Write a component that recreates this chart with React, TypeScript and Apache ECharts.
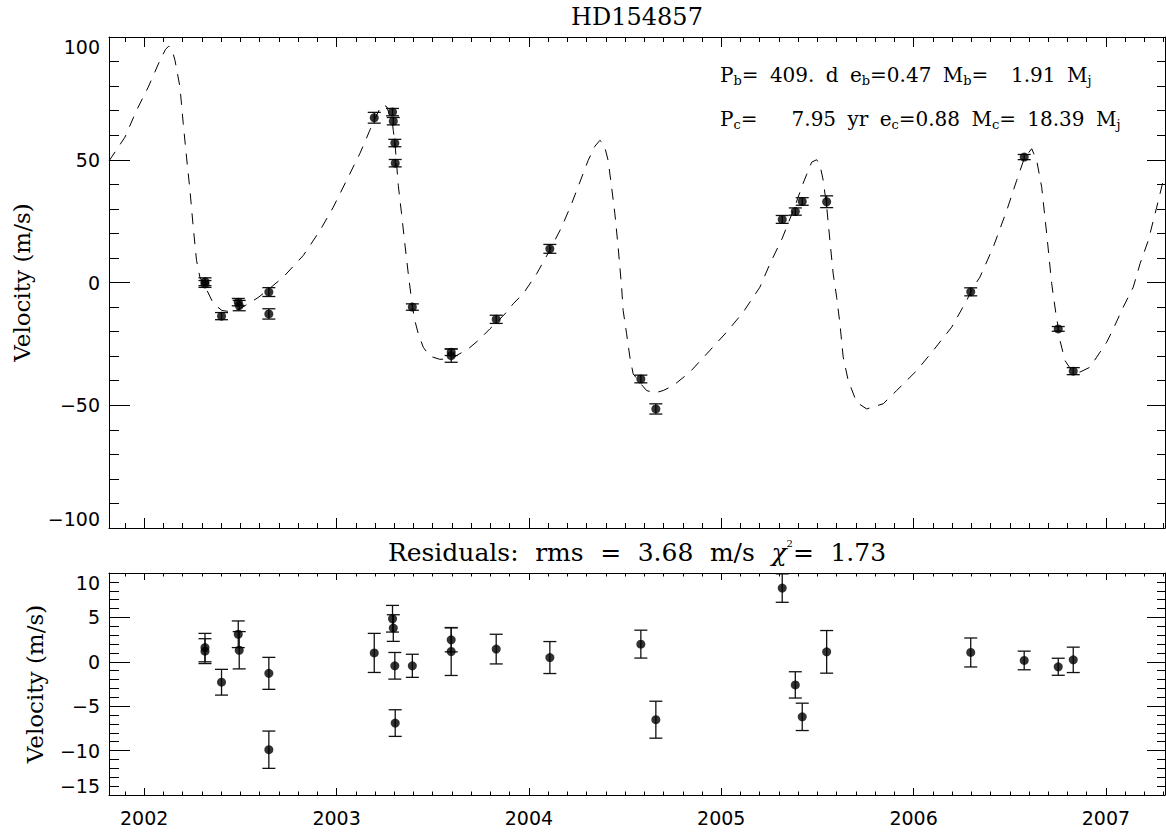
import React, { useEffect, useRef } from 'react';
import * as echarts from 'echarts';

// ---- Data ----
const modelYear = [
  2001.817, 2001.900, 2001.960, 2002.021, 2002.082, 2002.111, 2002.128, 2002.144, 2002.160, 2002.186,
  2002.203, 2002.220, 2002.238, 2002.255, 2002.272, 2002.290, 2002.316, 2002.359, 2002.404, 2002.440,
  2002.494, 2002.529, 2002.591, 2002.648, 2002.723, 2002.827, 2002.914, 2002.983, 2003.052, 2003.121,
  2003.173, 2003.196, 2003.225, 2003.243, 2003.262, 2003.278, 2003.291, 2003.295, 2003.303, 2003.305,
  2003.321, 2003.338, 2003.355, 2003.373, 2003.394, 2003.407, 2003.425, 2003.451, 2003.485, 2003.537,
  2003.596, 2003.685, 2003.737, 2003.797, 2003.830, 2003.875, 2003.918, 2003.970, 2004.040, 2004.109,
  2004.170, 2004.222, 2004.265, 2004.308, 2004.343, 2004.369, 2004.390, 2004.412, 2004.430, 2004.447,
  2004.464, 2004.482, 2004.490, 2004.508, 2004.525, 2004.542, 2004.582, 2004.612, 2004.655, 2004.698,
  2004.750, 2004.837, 2004.924, 2005.028, 2005.114, 2005.201, 2005.253, 2005.317, 2005.374, 2005.385,
  2005.426, 2005.470, 2005.496, 2005.513, 2005.530, 2005.548, 2005.565, 2005.582, 2005.600, 2005.617,
  2005.634, 2005.660, 2005.704, 2005.756, 2005.842, 2005.912, 2006.016, 2006.102, 2006.198, 2006.276,
  2006.310, 2006.345, 2006.414, 2006.484, 2006.536, 2006.575, 2006.614, 2006.640, 2006.666, 2006.692,
  2006.718, 2006.740, 2006.752, 2006.761, 2006.787, 2006.822, 2006.865, 2006.917, 2006.952, 2007.004,
  2007.038, 2007.090, 2007.142, 2007.177, 2007.220, 2007.264, 2007.298, 2007.307,
];
const modelVel = [
  49.5, 59.2, 70.1, 79.6, 90.5, 95.0, 96.3, 95.0, 90.5, 79.6,
  64.7, 51.1, 37.5, 22.5, 9.0, 2.0, -1.5, -8.5, -11.4, -11.8,
  -10.7, -9.2, -6.2, -2.7, 2.2, 11.0, 21.2, 30.7, 41.6, 52.5,
  62.0, 66.1, 70.8, 72.5, 71.5, 67.5, 64.6, 61.9, 57.3, 55.5,
  39.5, 28.0, 15.8, 3.5, -9.5, -15.5, -20.9, -26.4, -30.0, -31.3,
  -31.0, -27.0, -23.6, -18.9, -16.4, -12.8, -8.7, -4.6, 3.5, 13.2,
  22.5, 32.1, 40.9, 49.7, 55.5, 57.9, 56.5, 49.7, 38.8, 28.0,
  14.4, -1.9, -11.4, -20.9, -30.4, -37.2, -41.3, -44.0, -45.0, -44.0,
  -42.0, -36.5, -29.1, -20.2, -12.1, -1.9, 7.6, 18.0, 29.3, 31.5,
  40.5, 49.0, 50.0, 48.0, 41.6, 31.0, 17.1, 3.5, -6.0, -16.8,
  -30.4, -39.9, -48.8, -51.5, -49.4, -44.0, -35.9, -27.7, -18.2, -7.3,
  -1.9, 2.2, 14.4, 29.3, 41.6, 50.5, 54.5, 49.7, 38.8, 19.8,
  -0.5, -12.8, -18.3, -23.6, -31.8, -35.9, -36.5, -34.5, -30.4, -24.3,
  -18.9, -10.0, -1.9, 7.6, 17.1, 30.7, 41.6, 44.0,
];

const obsYear = [
  2002.316, 2002.316, 2002.402, 2002.489, 2002.494, 2002.648, 2002.648, 2003.196, 2003.291, 2003.295,
  2003.303, 2003.305, 2003.394, 2003.596, 2003.596, 2003.830, 2004.109, 2004.582, 2004.660, 2005.317,
  2005.385, 2005.421, 2005.548, 2006.297, 2006.575, 2006.752, 2006.830,
];
const obsVel = [
  0.3, -0.6, -13.7, -8.0, -9.4, -3.9, -12.8, 67.1, 69.4, 65.7,
  56.8, 48.6, -10.0, -28.4, -29.8, -15.0, 13.7, -39.3, -51.5, 25.7,
  28.9, 33.0, 32.9, -3.8, 51.1, -18.9, -36.1,
];
const obsErr = [
  1.6, 1.4, 1.45, 1.5, 2.1, 1.8, 2.1, 2.2, 1.5, 1.5,
  1.5, 1.5, 1.3, 1.35, 2.7, 1.67, 1.8, 1.57, 2.08, 1.6,
  1.48, 1.54, 2.4, 1.63, 1.05, 0.96, 1.43,
];
const residual = [
  1.6, 1.2, -2.3, 3.1, 1.3, -1.3, -9.9, 1.0, 4.85, 3.8,
  -0.45, -6.9, -0.45, 2.47, 1.16, 1.43, 0.48, 1.99, -6.52, 8.3,
  -2.6, -6.2, 1.12, 1.05, 0.15, -0.56, 0.22,
];

const yearTicks = [2002, 2003, 2004, 2005, 2006, 2007];
const velTicks = [-100, -50, 0, 50, 100];
const resTicks = [-15, -10, -5, 0, 5, 10];

const titleText = 'HD154857';
const yName = 'Velocity (m/s)';
// {w| } tokens are ordinary spaces drawn a little wider, like the plotting font's spaces
const annot1 =
  '{m|P}{s|b}{m|=}{w| }{m|409.}{w| }{m|d}{w| }{m|e}{s|b}{m|=0.47}{w| }{m|M}{s|b}{m|=}{w| }{w| }{m|1.91}{w| }{m|M}{s|j}';
const annot2 =
  '{m|P}{s|c}{m|=}{w| }{w| }{w| }{m|7.95}{w| }{m|yr}{w| }{m|e}{s|c}{m|=0.88}{w| }{m|M}{s|c}{m|=}{w| }{m|18.39}{w| }{m|M}{s|j}';
const residTitle =
  '{a|Residuals:}{w| }{a|rms}{w| }{a|=}{w| }{a|3.68}{w| }{a|m/s}{w| }{g|\u03c7}{p|2}{a|=}{w| }{a|1.73}';

const X_MIN = 2001.817;
const X_MAX = 2007.307;

const fmtMinus = (v: number) => (v < 0 ? '\u2212' + Math.abs(v) : String(v));

export default function App() {
  const ref = useRef<HTMLDivElement>(null);
  useEffect(() => {
    const chart = echarts.init(ref.current!, null, { renderer: 'svg' });

    const minorTicks: number[] = [];
    for (let t = Math.ceil(X_MIN * 10); t <= Math.floor(X_MAX * 10); t++) {
      if (t % 10 !== 0) minorTicks.push(t / 10);
    }

    const ink = '#000';
    const lineStyle = { color: ink, width: 1 };
    const tickFont = { fontFamily: 'DejaVu Sans', fontSize: 19, color: ink };
    const serif = 'DejaVu Serif';

    const xAx = (grid: number, pos: string, len: number, values: number[], line: boolean, labels: boolean) => ({
      type: 'value',
      gridIndex: grid,
      position: pos,
      min: X_MIN,
      max: X_MAX,
      axisLine: { show: line, onZero: false, lineStyle },
      axisTick: { show: true, inside: true, length: len, customValues: values, lineStyle },
      axisLabel: {
        show: labels,
        customValues: values,
        formatter: (v: number) => String(Math.round(v)),
        margin: 13,
        ...tickFont,
      },
      splitLine: { show: false },
    });

    const yAx = (grid: number, pos: string, ticks: number[], major: number, minor: number, labels: boolean, nameGap: number) => ({
      type: 'value',
      gridIndex: grid,
      position: pos,
      min: ticks[0],
      max: ticks[ticks.length - 1],
      interval: ticks[1] - ticks[0],
      axisLine: { show: true, onZero: false, lineStyle },
      axisTick: { show: true, inside: true, length: major, lineStyle },
      minorTick: { show: true, splitNumber: 5, length: minor, lineStyle },
      axisLabel: {
        show: labels,
        formatter: fmtMinus,
        margin: 9,
        verticalAlignMaxLabel: 'top',
        verticalAlignMinLabel: 'bottom',
        ...tickFont,
      },
      splitLine: { show: false },
      minorSplitLine: { show: false },
      name: labels ? yName : '',
      nameLocation: 'middle',
      nameGap,
      nameTextStyle: { fontFamily: serif, fontSize: 23, color: ink },
    });

    const errRender = (params: any, api: any) => {
      const x = api.value(0);
      const y = api.value(1);
      const e = api.value(2);
      const top = api.coord([x, y + e]);
      const bot = api.coord([x, y - e]);
      const hw = 6.5;
      const st = { stroke: '#111', lineWidth: 1.3 };
      return {
        type: 'group',
        children: [
          { type: 'line', shape: { x1: top[0], y1: top[1], x2: bot[0], y2: bot[1] }, style: st },
          { type: 'line', shape: { x1: top[0] - hw, y1: top[1], x2: top[0] + hw, y2: top[1] }, style: st },
          { type: 'line', shape: { x1: bot[0] - hw, y1: bot[1], x2: bot[0] + hw, y2: bot[1] }, style: st },
        ],
      };
    };

    const topData = obsYear.map((x, i) => [x, obsVel[i], obsErr[i]]);
    const resData = obsYear.map((x, i) => [x, residual[i], obsErr[i]]);
    const modelData = modelYear.map((x, i) => [x, modelVel[i]]);

    const annotRich = {
      m: { fontFamily: serif, fontSize: 20, lineHeight: 24, fill: ink, verticalAlign: 'middle' },
      s: { fontFamily: serif, fontSize: 13, lineHeight: 12, fill: ink, verticalAlign: 'bottom' },
      w: { fontFamily: serif, fontSize: 20, lineHeight: 24, fill: ink, verticalAlign: 'middle', padding: [0, 2.5, 0, 2.5] },
    };

    const option: any = {
      animation: false,
      backgroundColor: '#fff',
      grid: [
        { left: 109, top: 37, width: 1056, height: 491 },
        { left: 109, top: 573, width: 1056, height: 222 },
      ],
      xAxis: [
        xAx(0, 'bottom', 10, yearTicks, true, false),
        xAx(0, 'bottom', 5, minorTicks, false, false),
        xAx(0, 'top', 10, yearTicks, true, false),
        xAx(0, 'top', 5, minorTicks, false, false),
        xAx(1, 'bottom', 7, yearTicks, true, true),
        xAx(1, 'bottom', 3.5, minorTicks, false, false),
        xAx(1, 'top', 7, yearTicks, true, false),
        xAx(1, 'top', 3.5, minorTicks, false, false),
      ],
      yAxis: [
        yAx(0, 'left', velTicks, 21, 10, true, 76),
        yAx(0, 'right', velTicks, 18, 8, false, 0),
        yAx(1, 'left', resTicks, 21, 10, true, 63),
        yAx(1, 'right', resTicks, 18, 8, false, 0),
      ],
      series: [
        {
          type: 'line',
          xAxisIndex: 0,
          yAxisIndex: 0,
          data: modelData,
          showSymbol: false,
          symbol: 'none',
          lineStyle: { color: ink, width: 1, type: [11, 9] },
          z: 2,
        },
        {
          type: 'custom',
          xAxisIndex: 0,
          yAxisIndex: 0,
          data: topData,
          encode: { x: 0, y: 1 },
          renderItem: errRender,
          z: 3,
        },
        {
          type: 'scatter',
          xAxisIndex: 0,
          yAxisIndex: 0,
          data: topData.map((d) => [d[0], d[1]]),
          symbol: 'circle',
          symbolSize: 9,
          itemStyle: { color: ink },
          z: 4,
        },
        {
          type: 'custom',
          xAxisIndex: 4,
          yAxisIndex: 2,
          data: resData,
          encode: { x: 0, y: 1 },
          renderItem: errRender,
          z: 3,
        },
        {
          type: 'scatter',
          xAxisIndex: 4,
          yAxisIndex: 2,
          data: resData.map((d) => [d[0], d[1]]),
          symbol: 'circle',
          symbolSize: 9,
          itemStyle: { color: ink },
          z: 4,
        },
      ],
      graphic: [
        {
          type: 'text',
          x: 637,
          y: 17,
          style: {
            text: titleText,
            fontFamily: serif,
            fontSize: 24,
            fill: ink,
            align: 'center',
            verticalAlign: 'middle',
          },
        },
        {
          type: 'text',
          x: 637,
          y: 552,
          style: {
            text: residTitle,
            align: 'center',
            verticalAlign: 'middle',
            fill: ink,
            rich: {
              a: { fontFamily: serif, fontSize: 25, lineHeight: 28, fill: ink, verticalAlign: 'middle' },
              w: { fontFamily: serif, fontSize: 25, lineHeight: 28, fill: ink, verticalAlign: 'middle', padding: [0, 4.3, 0, 4.3] },
              g: { fontFamily: serif, fontSize: 25, fontStyle: 'italic', lineHeight: 28, fill: ink, verticalAlign: 'middle' },
              p: { fontFamily: serif, fontSize: 10, lineHeight: 20, fill: ink, verticalAlign: 'top' },
            },
          },
        },
        {
          type: 'text',
          x: 720,
          y: 75,
          style: { text: annot1, align: 'left', verticalAlign: 'middle', fill: ink, rich: annotRich },
        },
        {
          type: 'text',
          x: 720,
          y: 119,
          style: { text: annot2, align: 'left', verticalAlign: 'middle', fill: ink, rich: annotRich },
        },
      ],
    };

    chart.setOption(option);
    return () => chart.dispose();
  }, []);

  return <div ref={ref} style={{ position: 'absolute', left: 0, top: 0, width: 1166, height: 835 }} />;
}
